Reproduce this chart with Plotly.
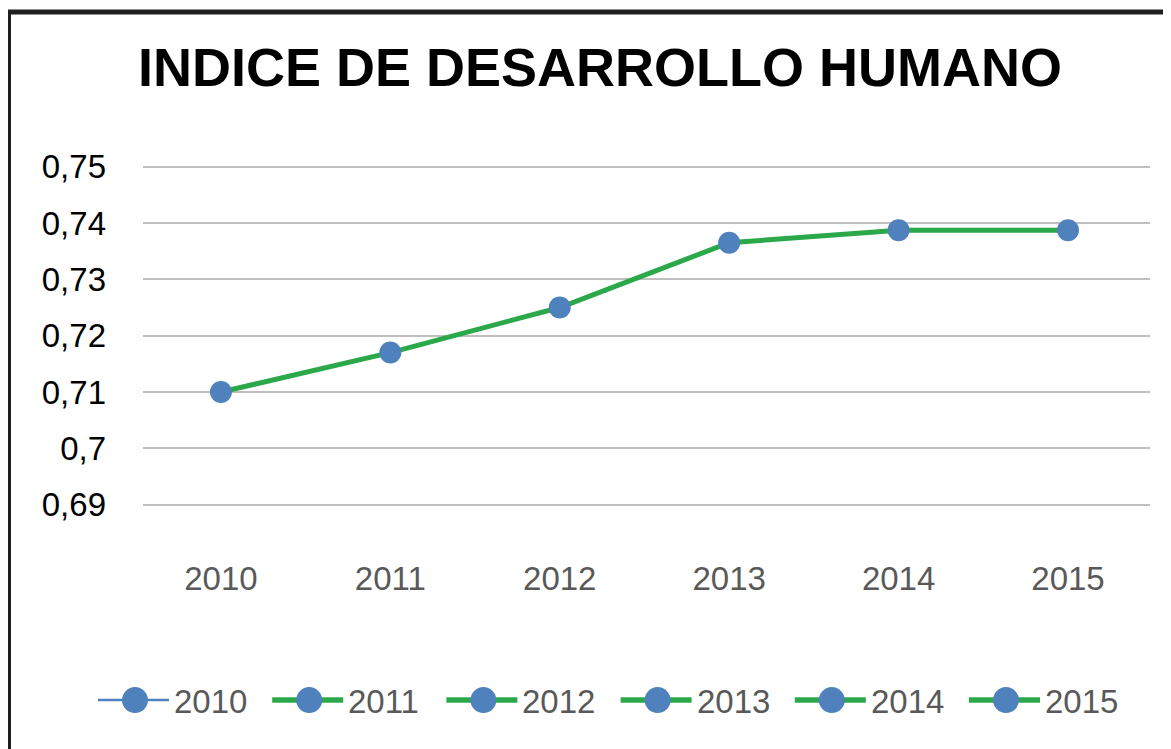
import plotly.graph_objects as go

years = [2010, 2011, 2012, 2013, 2014, 2015]
idh = [0.710, 0.717, 0.725, 0.7365, 0.7387, 0.7387]
legend_names = ["2010", "2011", "2012", "2013", "2014", "2015"]
y_ticks = [0.69, 0.70, 0.71, 0.72, 0.73, 0.74, 0.75]
y_tick_text = ["0,69", "0,7", "0,71", "0,72", "0,73", "0,74", "0,75"]

BLUE = "#4F81BD"
GREEN = "#2BA84A"
GRAY_TXT = "#595959"

OFF = 8                      # default page body margin
SW, SH = 1171, 749           # screen size
W, H = SW - OFF, SH - OFF    # figure size
# plot area in screen pixels
L, R, T, B = 143, 1150, 165.3, 561
YMIN, YMAX = 0.68, 0.7503

def px(x):
    return (x - L) / (R - L)

def py(y):
    return (B - y) / (B - T)

fig = go.Figure()
fig.add_trace(go.Scatter(
    x=years, y=idh, mode="lines+markers",
    line=dict(color=GREEN, width=5),
    marker=dict(color=BLUE, size=22),
    showlegend=False, hoverinfo="x+y",
))

shapes = []
annotations = []
# frame
shapes.append(dict(type="rect", xref="paper", yref="paper",
                   x0=px(8.5), x1=px(1190), y0=py(775), y1=py(12.5),
                   line=dict(color="#1f1f1f", width=5), fillcolor="rgba(0,0,0,0)", layer="above"))

# legend (drawn manually for large markers)
LEG_X0, LEG_STEP, LEG_Y = 98, 174.2, 700
for i, name in enumerate(legend_names):
    x0 = LEG_X0 + LEG_STEP * i
    shapes.append(dict(type="line", xref="paper", yref="paper",
                       x0=px(x0), x1=px(x0 + 71), y0=py(LEG_Y), y1=py(LEG_Y),
                       line=dict(color=BLUE if i == 0 else GREEN, width=2.5 if i == 0 else 5.5)))
    cx = x0 + 37
    shapes.append(dict(type="circle", xref="paper", yref="paper",
                       x0=px(cx - 13), x1=px(cx + 13), y0=py(LEG_Y + 13), y1=py(LEG_Y - 13),
                       fillcolor=BLUE, line=dict(width=0)))
    annotations.append(dict(text=name, xref="paper", yref="paper",
                            x=px(x0 + 74), y=py(LEG_Y + 1), xanchor="left", yanchor="middle",
                            showarrow=False, font=dict(size=33, color=GRAY_TXT)))

fig.update_layout(
    width=W, height=H,
    margin=dict(l=L - OFF, r=SW - R, t=T - OFF, b=H - (B - OFF), pad=0),
    paper_bgcolor="white", plot_bgcolor="white",
    separators=",.",
    font=dict(family="Liberation Sans, Arial, sans-serif"),
    title=dict(text="<b>INDICE DE DESARROLLO HUMANO</b>",
               font=dict(family="Liberation Sans, Arial", size=54, color="black"),
               x=(600 - OFF) / W, xanchor="center", xref="container",
               y=1 - (67 - OFF) / H, yanchor="middle", yref="container"),
    xaxis=dict(range=[2009.54, 2015.484], tickvals=years, ticktext=[str(y) for y in years],
               showgrid=False, zeroline=False, showline=False, ticks="",
               ticklabelstandoff=-5,
               tickfont=dict(size=33, color=GRAY_TXT)),
    yaxis=dict(range=[YMIN, YMAX], tickvals=y_ticks, ticktext=y_tick_text,
               showgrid=True, gridcolor="#BFBFBF", gridwidth=2, zeroline=False, showline=False,
               ticks="", ticklabelstandoff=36,
               tickfont=dict(size=33, color="black")),
    shapes=shapes,
    annotations=annotations,
    showlegend=False,
)

fig.write_html("out.html")
